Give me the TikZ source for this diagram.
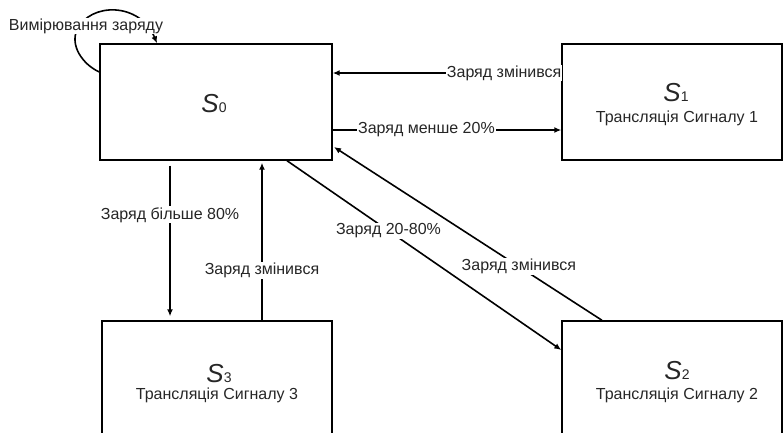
\documentclass[tikz,border=0pt]{standalone}
\usepackage{fontspec}
\setmainfont{Liberation Sans}
\usetikzlibrary{arrows.meta}
\begin{document}
\begin{tikzpicture}[x=1pt,y=-1pt,
  box/.style={draw, line width=1.4pt, minimum width=232pt, minimum height=116pt, inner sep=0pt},
  bbox/.style={draw, line width=1.4pt, minimum width=220pt, minimum height=140pt, inner sep=0pt},
  arr/.style={line width=1.6pt, -{Latex[length=7pt,width=6pt]}},
  lbl/.style={fill=white, inner sep=1pt, font=\fontsize{16}{18}\selectfont, text=black!85},
  st/.style={inner sep=0pt, font=\fontsize{16}{18}\selectfont, text=black!85}]
\useasboundingbox (0,0) rectangle (784,432);
\clip (0,0) rectangle (784,432);
\newcommand{\stname}[1]{{\fontsize{26}{26}\selectfont\itshape S}{\fontsize{14}{14}\selectfont #1}}
% boxes
\node[box] (S0) at (216,102) {};
\node[bbox, minimum width=220pt, minimum height=116pt] (S1) at (672,102) {};
\node[bbox, minimum width=230pt] (S3) at (217,391) {};
\node[bbox] (S2) at (672,391) {};
% texts
\node[st] (t0) at (214,104) {\stname{0}};
\node[st] (t1) at (676,93) {\stname{1}};
\node[st] (u1) at (677,118) {Трансляція Сигналу 1};
\node[st] (t3) at (219,374) {\stname{3}};
\node[st] (u3) at (217,395) {Трансляція Сигналу 3};
\node[st] (t2) at (677,371) {\stname{2}};
\node[st] (u2) at (677,395) {Трансляція Сигналу 2};
% self loop
\draw[arr] (S0.west |- 0,72) .. controls (82,64) and (70,45) .. (77,30)
  .. controls (90,2) and (140,2) .. (S0.north -| 157,0);
\node[lbl] (l0) at (86,26) {Вимірювання заряду};
% S1 -> S0
\draw[arr] (S1.west |- 0,73) -- (S0.east |- 0,73)
  node[lbl, pos=0.25] (l1) {Заряд змінився};
% S0 -> S1
\draw[arr] (S0.east |- 0,130) -- (S1.west |- 0,130)
  node[lbl, pos=0.41] (l2) {Заряд менше 20\%};
% S0 -> S3
\draw[arr, shorten <=5pt, shorten >=4pt] (S0.south -| 170,0) -- (S3.north -| 170,0)
  node[lbl, pos=0.34] (l3) {Заряд більше 80\%};
% S3 -> S0
\draw[arr, shorten >=2pt] (S3.north -| 262,0) -- (S0.south -| 262,0)
  node[lbl, pos=0.31] (l4) {Заряд змінився};
% S0 -> S2
\draw[arr] (S0.south -| 287,0) -- (S2.west |- 0,350)
  node[lbl, pos=0.37] (l5) {Заряд 20-80\%};
% S2 -> S0
\draw[arr] (S2.north -| 602,0) -- (334,147)
  node[lbl, pos=0.31] (l6) {Заряд змінився};
\end{tikzpicture}
\end{document}
